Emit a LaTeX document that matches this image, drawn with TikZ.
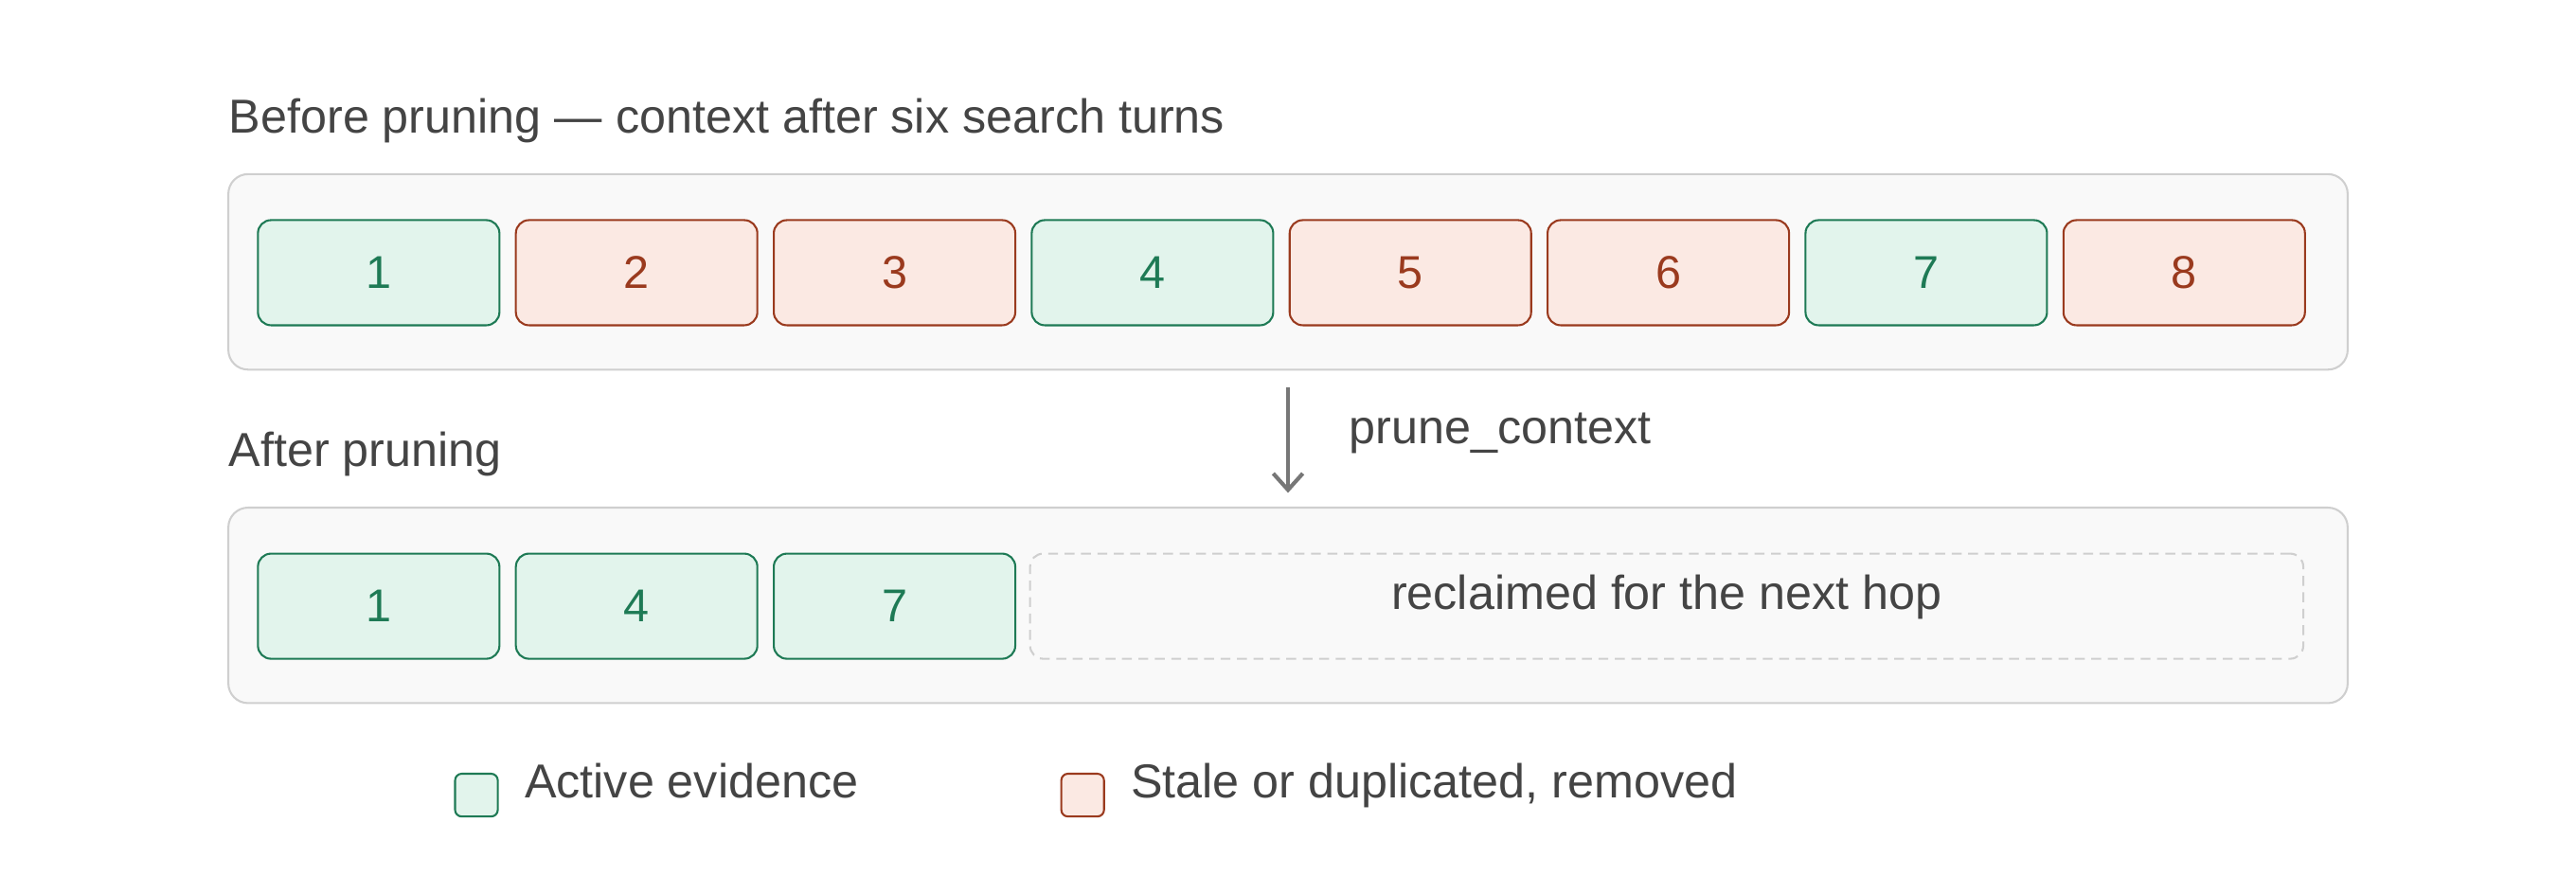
\documentclass[tikz,border=0pt]{standalone}
\usepackage{fontspec}
\setmainfont{Liberation Sans}
\usetikzlibrary{arrows.meta}
\definecolor{keepfill}{HTML}{E2F4EC}
\definecolor{keepline}{HTML}{1E7A55}
\definecolor{dropfill}{HTML}{FBE9E3}
\definecolor{dropline}{HTML}{9A3A1E}
\definecolor{panelfill}{HTML}{F9F9F9}
\definecolor{panelline}{HTML}{CFCFCF}
\definecolor{inktext}{HTML}{444444}
\definecolor{arrowink}{HTML}{777777}
\tikzset{
  panel/.style={draw=panelline, fill=panelfill, rounded corners=6pt, line width=0.6pt},
  cell/.style={minimum width=73.5pt, minimum height=32pt, rounded corners=4pt, line width=0.6pt, font=\fontsize{14}{16}\selectfont, inner sep=0pt},
  keep/.style={cell, draw=keepline, fill=keepfill, text=keepline},
  drop/.style={cell, draw=dropline, fill=dropfill, text=dropline},
  label/.style={font=\fontsize{14.5}{17}\selectfont, text=inktext, inner sep=0pt, text height=0.6em, text depth=0.42em},
}
\begin{document}
\begin{tikzpicture}[x=0.5pt,y=0.5pt,yscale=-1,xscale=1]
	\useasboundingbox (0,0) rectangle (1568,544);

	% Panels
	\draw [panel] (139,106) rectangle (1429,225);
	\draw [panel] (139,309) rectangle (1429,428);

	% Text Node
	\node [label, anchor=west] (before) at (139,79) {Before pruning — context after six search turns};
	% Text Node
	\node [label, anchor=west] (after) at (139,282) {After pruning};

	% Cells before pruning
	\foreach \n/\s [count=\i from 0] in {1/keep,2/drop,3/drop,4/keep,5/drop,6/drop,7/keep,8/drop}
		\node [\s] (b\n) at (230.5+157*\i,166) {\n};

	% Cells after pruning
	\foreach \n [count=\i from 0] in {1,4,7}
		\node [keep] (a\n) at (230.5+157*\i,369) {\n};
	\node [draw=panelline, dash pattern={on 3pt off 2pt}, rounded corners=4pt, line width=0.6pt, minimum width=387.5pt, minimum height=32pt] (free) at (1014.5,369) {};
	\node [label] (freetext) at (free.center) {reclaimed for the next hop};

	% Arrow
	\coordinate (from) at (784,236);
	\coordinate (to) at (784,300);
	\draw [-{Straight Barb[length=5pt,width=9pt]}, color=arrowink, line width=1.2pt] (from) -- (to);
	\node [label, anchor=west] (prune) at (821,268) {prune\_context};

	% Legend
	\node [keep, minimum width=13pt, minimum height=13pt, rounded corners=2pt] (keyk) at (290,484) {};
	\node [label, anchor=west] (keykt) at (319,484) {Active evidence};
	\node [drop, minimum width=13pt, minimum height=13pt, rounded corners=2pt] (keyd) at (659,484) {};
	\node [label, anchor=west] (keydt) at (688,484) {Stale or duplicated, removed};
\end{tikzpicture}
\end{document}
